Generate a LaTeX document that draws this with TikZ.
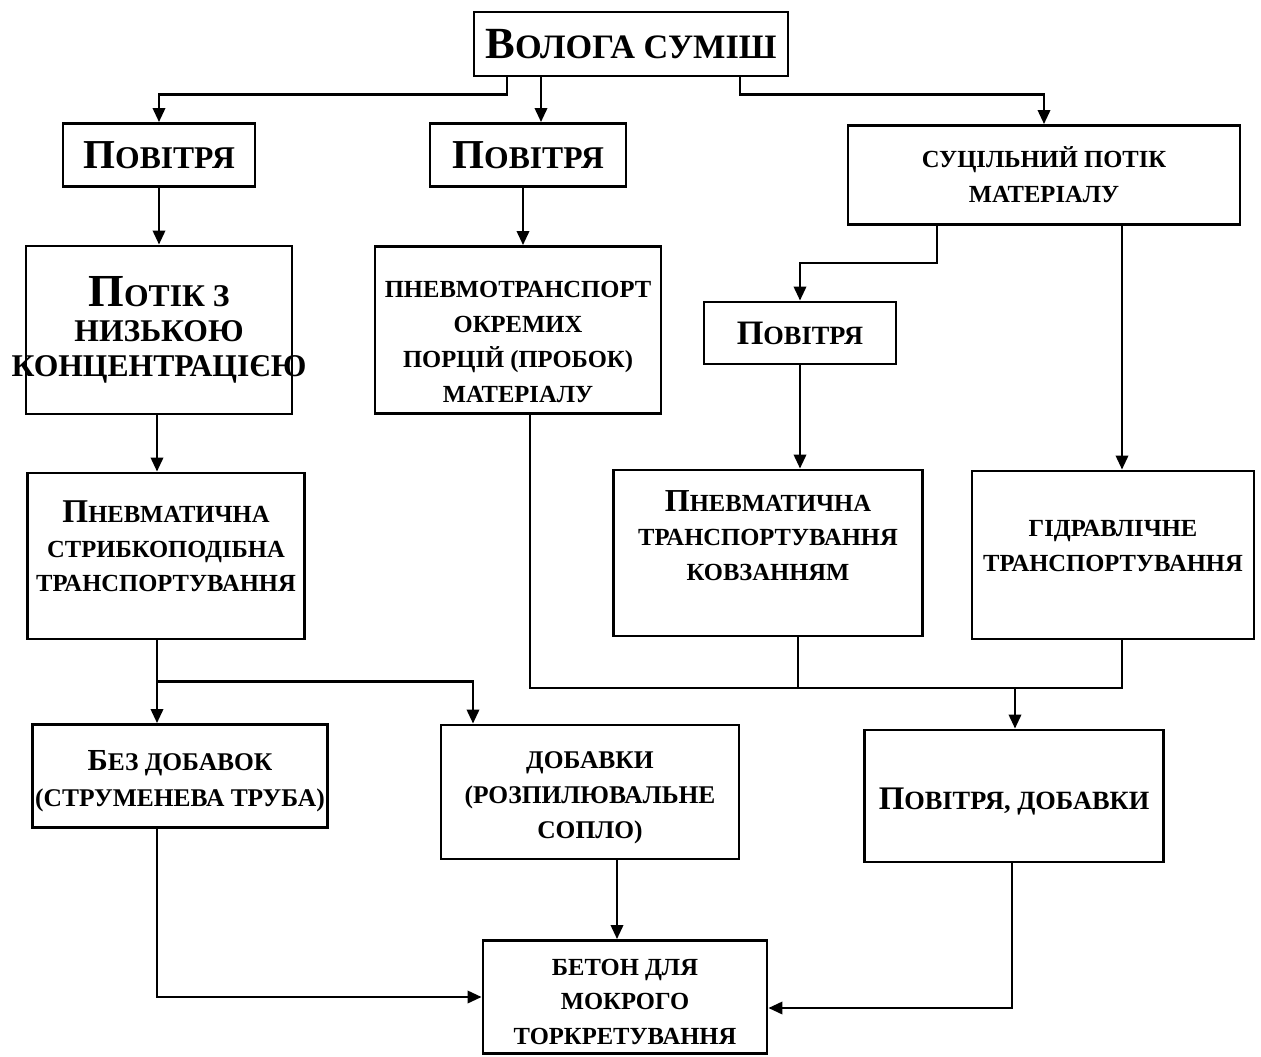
\documentclass[tikz,border=0pt]{standalone}
\usepackage{graphicx}
\usepackage{fontspec}
\setmainfont{Liberation Serif}
\usetikzlibrary{arrows.meta}
\newcommand\Lg[2][1.3]{\scalebox{#1}{#2}}
\tikzset{
  bx/.style={draw, line width=1.6pt, align=center, inner sep=0pt, fill=white},
  sz/.style 2 args={minimum width=#1*0.02cm, minimum height=#2*0.02cm},
  fb/.style={font=\bfseries\fontsize{#1}{19.8}\selectfont},
  ar/.style={line width=1.5pt, -{Triangle[length=8pt,width=7pt]}},
  ln/.style={line width=1.5pt},
}
\begin{document}
\begin{tikzpicture}[x=0.02cm,y=-0.02cm]
\useasboundingbox (0,0) rectangle (1261,1057);
% nodes
\node[bx,sz={314}{64},fb=19.5] (top) at (631,44) {\Lg{В}ОЛОГА СУМІШ};
\node[bx,sz={192}{63},fb=18] (p1) at (159,155) {\Lg{П}ОВІТРЯ};
\node[bx,sz={196}{63},fb=18] (p2) at (528,155) {\Lg{П}ОВІТРЯ};
\node[bx,sz={392}{99},fb=14] (s) at (1044,175) {СУЦІЛЬНИЙ ПОТІК\\МАТЕРІАЛУ};
\node[bx,sz={266}{168},font=\bfseries\fontsize{18}{20}\selectfont] (pk) at (159,330) {\Lg[1.45]{П}ОТІК З\\НИЗЬКОЮ\\\makebox[0pt]{КОНЦЕНТРАЦІЄЮ}};
\node[bx,sz={286}{167},fb=14,text height=82pt,text depth=0pt] (pt) at (518,330) {ПНЕВМОТРАНСПОРТ\\ОКРЕМИХ\\ПОРЦІЙ (ПРОБОК)\\МАТЕРІАЛУ};
\node[bx,sz={192}{62},fb=15] (p3) at (800,333) {\Lg{П}ОВІТРЯ};
\node[bx,sz={277}{166},fb=14,text depth=11pt] (st) at (166,556) {\Lg[1.35]{П}НЕВМАТИЧНА\\СТРИБКОПОДІБНА\\ТРАНСПОРТУВАННЯ};
\node[bx,sz={309}{166},fb=14,text depth=20pt] (kv) at (768,553) {\Lg[1.3]{П}НЕВМАТИЧНА\\ТРАНСПОРТУВАННЯ\\КОВЗАННЯМ};
\node[bx,sz={282}{168},fb=14,text depth=10.5pt] (gd) at (1113,555) {ГІДРАВЛІЧНЕ\\ТРАНСПОРТУВАННЯ};
\node[bx,sz={295}{103},font=\bfseries\fontsize{14.5}{20.4}\selectfont,text height=37.5pt] (bd) at (180,776) {\Lg[1.2]{Б}ЕЗ ДОБАВОК\\(СТРУМЕНЕВА ТРУБА)};
\node[bx,sz={298}{134},fb=14.5,text height=56pt] (db) at (590,792) {ДОБАВКИ\\(РОЗПИЛЮВАЛЬНЕ\\СОПЛО)};
\node[bx,sz={299}{132},fb=15,text height=19pt] (pd) at (1014,796) {\Lg[1.25]{П}ОВІТРЯ, ДОБАВКИ};
\node[bx,sz={284}{113},fb=14,text height=54.5pt] (bt) at (625,997) {БЕТОН ДЛЯ\\МОКРОГО\\ТОРКРЕТУВАННЯ};
% helper coordinates
\coordinate (xa) at (507,0);
\coordinate (xb) at (541,0);
\coordinate (xc) at (740,0);
\coordinate (xd) at (937,0);
\coordinate (xe) at (1122,0);
\coordinate (xf) at (157,0);
\coordinate (xg) at (473,0);
\coordinate (xh) at (530,0);
\coordinate (xi) at (798,0);
\coordinate (xj) at (1015,0);
\coordinate (xk) at (617,0);
\coordinate (xl) at (1012,0);
\coordinate (xm) at (523,0);
\coordinate (ya) at (0,688);
\coordinate (yb) at (0,1008);
% connectors
\draw[ar] (top.south -| xa) -- ++(0,17) -| (p1.north);
\draw[ar] (top.south -| xb) -- (p2.north -| xb);
\draw[ar] (top.south -| xc) -- ++(0,17) -| (s.north);
\draw[ar] (p1.south) -- (pk.north);
\draw[ar] (p2.south -| xm) -- (pt.north -| xm);
\draw[ar] (s.south -| xd) -- ++(0,37) -| (p3.north);
\draw[ar] (s.south -| xe) -- (gd.north -| xe);
\draw[ar] (p3.south) -- (p3.south |- kv.north);
\draw[ar] (pk.south -| xf) -- (st.north -| xf);
\draw[ln] (st.south -| xf) -- ++(0,41) coordinate (j1);
\draw[ar] (j1) -- (bd.north -| xf);
\draw[ar] (j1) -| (db.north -| xg);
\draw[ln] (pt.south -| xh) |- (xe |- ya) -- (gd.south -| xe);
\draw[ln] (kv.south -| xi) -- (xi |- ya);
\draw[ar] (xj |- ya) -- (pd.north -| xj);
\draw[ar] (bd.south -| xf) |- (bt.west);
\draw[ar] (db.south -| xk) -- (bt.north -| xk);
\draw[ar] (pd.south -| xl) |- (bt.east |- yb);
\end{tikzpicture}
\end{document}
